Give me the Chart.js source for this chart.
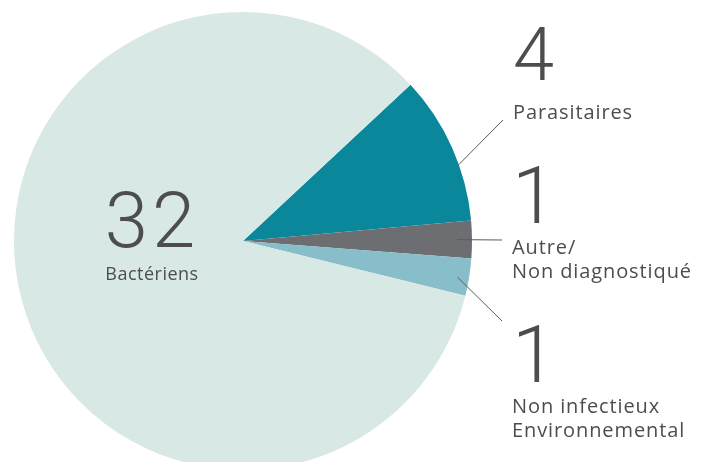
<!DOCTYPE html>
<html>
<head>
<meta charset="utf-8">
<script src="https://cdn.jsdelivr.net/npm/chart.js@4"></script>
<style>
html,body{margin:0;padding:0;background:#fff;overflow:hidden;width:707px;height:462px;}
#wrap{position:relative;width:707px;height:482px;}
</style>
</head>
<body>
<div id="wrap"><canvas id="c"></canvas></div>
<script>
// Data
const categories = ["Parasitaires", "Autre/\nNon diagnostiqué", "Non infectieux\nEnvironnemental", "Bactériens"];
const values = [4, 1, 1, 32];
const colors = ["#0b879c", "#6d6e72", "#88bdca", "#d8e8e5"];

const textColor = "#4d4d4f";
const smallFont = "20px 'Open Sans'";

// label layout (annotation positions)
const labelLayout = [
  {x: 513, numY: 80, numSize: 74, numSpacing: 0, lines: [119], lineFrac: 0.62, lineR: 1.0, endX: 503, endY: 120},
  {x: 512, numY: 223, numSize: 80, numSpacing: 0, lines: [254, 278], lineFrac: 0.5, lineR: 0.935, endX: 502, endY: 240},
  {x: 512, numY: 382, numSize: 80, numSpacing: 0, lines: [413, 437], lineFrac: 0.55, lineR: 0.95, endX: 502, endY: 321},
  {x: 152, numY: 247, numSize: 78, numSpacing: 4, lines: [280], center: true}
];

const labelsPlugin = {
  id: 'labelsPlugin',
  afterDraw(chart) {
    const ctx = chart.ctx;
    const meta = chart.getDatasetMeta(0);
    ctx.save();
    meta.data.forEach((arc, i) => {
      const L = labelLayout[i];
      const p = arc.getProps(['x','y','startAngle','endAngle','outerRadius'], true);
      if (L.lineFrac !== undefined) {
        const a = p.startAngle + (p.endAngle - p.startAngle) * L.lineFrac;
        const r = p.outerRadius * L.lineR;
        ctx.beginPath();
        ctx.strokeStyle = "#5a5a5c";
        ctx.lineWidth = 1;
        ctx.moveTo(p.x + r * Math.cos(a), p.y + r * Math.sin(a));
        ctx.lineTo(L.endX, L.endY);
        ctx.stroke();
      }
      ctx.fillStyle = textColor;
      ctx.textAlign = L.center ? 'center' : 'left';
      ctx.textBaseline = 'alphabetic';
      ctx.font = "300 " + L.numSize + "px Roboto";
      ctx.letterSpacing = L.numSpacing + "px";
      ctx.fillText(String(values[i]), L.x, L.numY);
      ctx.font = L.center ? "18px 'Open Sans'" : smallFont;
      ctx.letterSpacing = L.center ? "0.5px" : "0.9px";
      const parts = categories[i].split("\n");
      parts.forEach((t, k) => ctx.fillText(t, L.x, L.lines[k]));
    });
    ctx.restore();
  }
};

new Chart(document.getElementById('c'), {
  type: 'pie',
  data: {
    labels: categories,
    datasets: [{
      data: values,
      backgroundColor: colors,
      borderWidth: 0
    }]
  },
  options: {
    responsive: true,
    maintainAspectRatio: false,
    animation: false,
    rotation: 47.0,
    layout: {padding: {left: 14, right: 235, top: 12, bottom: 12}},
    plugins: {legend: {display: false}, tooltip: {enabled: false}}
  },
  plugins: [labelsPlugin]
});
</script>
</body>
</html>
